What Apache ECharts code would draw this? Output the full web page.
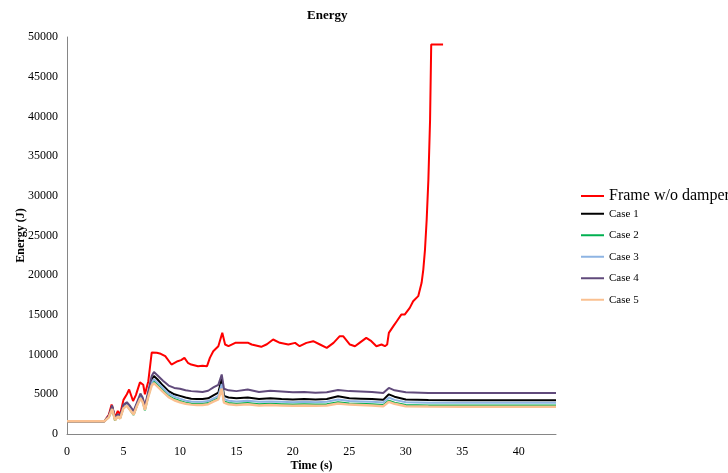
<!DOCTYPE html>
<html>
<head>
<meta charset="utf-8">
<script src="https://cdn.jsdelivr.net/npm/echarts@6/dist/echarts.min.js"></script>
<style>html,body{margin:0;padding:0;background:#fff}#c{width:728px;height:473px}</style>
</head>
<body>
<div id="c"></div>
<script>
const seriesNames = ["Frame w/o damper", "Case 1", "Case 2", "Case 3", "Case 4", "Case 5"];
const xTicks = [0, 5, 10, 15, 20, 25, 30, 35, 40];
const yTicks = [0, 5000, 10000, 15000, 20000, 25000, 30000, 35000, 40000, 45000, 50000];

const redT = [0, 3.3, 3.7, 3.95, 4.25, 4.5, 4.7, 5.0, 5.3, 5.5, 5.85, 6.1, 6.46, 6.75, 6.9, 7.2, 7.5, 7.65, 7.95, 8.3, 8.7, 9.25, 9.8, 10.1, 10.4, 10.7, 11.0, 11.6, 12.0, 12.4, 12.65, 12.95, 13.4, 13.75, 14.0, 14.3, 14.9, 15.6, 16.05, 16.35, 17.2, 17.7, 18.25, 18.85, 19.6, 20.2, 20.6, 21.2, 21.8, 22.4, 23.0, 23.6, 24.15, 24.45, 25.05, 25.5, 25.9, 26.5, 26.95, 27.4, 27.85, 28.15, 28.35, 28.5, 28.9, 29.2, 29.6, 29.9, 30.35, 30.65, 31.1, 31.4, 31.55, 31.7, 31.85, 32.0, 32.15, 32.25, 33.3];
const redE = [1600, 1600, 2400, 3700, 2100, 2900, 2450, 4300, 5000, 5600, 4150, 4900, 6500, 6200, 5000, 6650, 10260, 10430, 10230, 10100, 9800, 8750, 9170, 9300, 9590, 8970, 8750, 8540, 8600, 8540, 9590, 10430, 11060, 12740, 11270, 11060, 11480, 11480, 11480, 11270, 10980, 11300, 11900, 11480, 11270, 11480, 11060, 11480, 11690, 11270, 10850, 11480, 12320, 12320, 11270, 11060, 11480, 12110, 11690, 11060, 11270, 11060, 11270, 12740, 13580, 14200, 15040, 15040, 15890, 16720, 17360, 19040, 20710, 23230, 27010, 32040, 39600, 49040, 49040];

const caseT = [0, 3.3, 3.7, 4.0, 4.25, 4.5, 4.7, 5.0, 5.3, 5.6, 5.9, 6.2, 6.5, 6.7, 6.9, 7.2, 7.5, 7.7, 8.0, 8.5, 9.0, 9.5, 10.0, 10.5, 11.0, 11.5, 12.0, 12.5, 13.0, 13.4, 13.7, 13.9, 14.3, 15, 16, 17, 18, 19, 20, 21, 22, 23, 24, 25, 26, 27, 28, 28.5, 29, 30, 32, 35, 40, 43.3];
const case1 = [1600, 1600, 2200, 3400, 1900, 2400, 2100, 3500, 3800, 3300, 2700, 3800, 4800, 4300, 3300, 5100, 6900, 7300, 6900, 6100, 5400, 5000, 4800, 4600, 4450, 4400, 4400, 4500, 4900, 5200, 7000, 4800, 4600, 4500, 4600, 4400, 4500, 4400, 4350, 4400, 4350, 4400, 4750, 4500, 4450, 4400, 4300, 5000, 4700, 4350, 4270, 4260, 4260, 4260];
const case2 = [1600, 1600, 2100, 3200, 1700, 2250, 1950, 3300, 3600, 3000, 2400, 3600, 4600, 4100, 3000, 4800, 6300, 6600, 6200, 5500, 4800, 4400, 4150, 3950, 3850, 3800, 3800, 3900, 4250, 4500, 5900, 4100, 3900, 3800, 3900, 3750, 3800, 3750, 3700, 3750, 3700, 3750, 4000, 3850, 3800, 3750, 3650, 4200, 3950, 3650, 3600, 3590, 3590, 3590];
const case3 = [1600, 1600, 2150, 3300, 1850, 2350, 2050, 3400, 3700, 3200, 2600, 3700, 4700, 4200, 3200, 4900, 6500, 6900, 6500, 5800, 5100, 4700, 4450, 4200, 4100, 4050, 4050, 4150, 4500, 4800, 6300, 4400, 4200, 4100, 4200, 4050, 4100, 4050, 4000, 4050, 4000, 4050, 4350, 4150, 4100, 4050, 3980, 4600, 4300, 4000, 3940, 3930, 3930, 3930];
const case4 = [1600, 1600, 2300, 3600, 2000, 2500, 2200, 3700, 4000, 3500, 2900, 4000, 5100, 4600, 3500, 5400, 7300, 7800, 7400, 6700, 6100, 5800, 5700, 5500, 5400, 5350, 5300, 5450, 5900, 6200, 7500, 5700, 5500, 5400, 5600, 5300, 5450, 5350, 5250, 5300, 5200, 5250, 5550, 5400, 5350, 5300, 5150, 5800, 5500, 5250, 5150, 5150, 5150, 5150];
const case5 = [1600, 1600, 2100, 3150, 1750, 2200, 1950, 3250, 3550, 3000, 2450, 3550, 4500, 4000, 3050, 4700, 6100, 6400, 6000, 5300, 4650, 4250, 4000, 3800, 3700, 3650, 3650, 3750, 4100, 4350, 5700, 3950, 3750, 3650, 3750, 3600, 3650, 3600, 3550, 3600, 3550, 3600, 3850, 3700, 3650, 3600, 3500, 4050, 3800, 3500, 3450, 3430, 3420, 3420];

const colors = ["#ff0000", "#000000", "#00b050", "#8eb4e3", "#604a7b", "#fac090"];
const widths = [2, 2, 2, 2, 2, 2.5];
const caseVals = [case1, case2, case3, case4, case5];

function pairs(t, v) { return t.map((x, i) => [x, v[i]]); }

const serif = '"Liberation Serif", "Times New Roman", serif';
const series = [];
series.push({ name: seriesNames[0], data: pairs(redT, redE) });
caseVals.forEach((v, i) => series.push({ name: seriesNames[i + 1], data: pairs(caseT, v) }));
series.forEach((s, i) => {
  s.type = 'line';
  s.showSymbol = false;
  s.symbol = 'none';
  s.lineStyle = { color: colors[i], width: widths[i] };
  s.itemStyle = { color: colors[i] };
  s.z = 2 + i;
});

const chart = echarts.init(document.getElementById('c'), null, { renderer: 'canvas' });
chart.setOption({
  animation: false,
  backgroundColor: '#ffffff',
  title: {
    text: 'Energy', left: 302, top: 4,
    textStyle: { fontFamily: serif, fontSize: 13, fontWeight: 'bold', color: '#000' }
  },
  grid: { left: 67, right: 172, top: 37, bottom: 39, containLabel: false, outerBoundsMode: 'none' },
  legend: [
    {
      orient: 'vertical', left: 576, top: 183, icon: 'rect', itemWidth: 23, itemHeight: 2,
      data: [seriesNames[0]],
      textStyle: { fontFamily: serif, fontSize: 16, color: '#000' }
    },
    {
      orient: 'vertical', left: 576, top: 202, icon: 'rect', itemWidth: 23, itemHeight: 2, itemGap: 8,
      data: seriesNames.slice(1),
      textStyle: { fontFamily: serif, fontSize: 11, color: '#000', lineHeight: 13.5 }
    }
  ],
  xAxis: {
    type: 'value', min: 0, max: 43.3, interval: 5,
    name: 'Time (s)', nameLocation: 'middle', nameGap: 26, nameMoveOverlap: false,
    nameTextStyle: { fontFamily: serif, fontSize: 12, fontWeight: 'bold', color: '#000' },
    axisLine: { show: true, lineStyle: { color: '#868686', width: 1 } },
    axisTick: { show: false },
    splitLine: { show: false },
    axisLabel: {
      fontFamily: serif, fontSize: 12, color: '#000', margin: 12, showMaxLabel: false,
      formatter: v => (xTicks.indexOf(v) >= 0 ? String(v) : '')
    }
  },
  yAxis: {
    type: 'value', min: 0, max: 50000, interval: 5000,
    name: 'Energy (J)', nameLocation: 'middle', nameGap: 40, nameRotate: 90, nameMoveOverlap: false,
    nameTextStyle: { fontFamily: serif, fontSize: 12, fontWeight: 'bold', color: '#000' },
    axisLine: { show: true, lineStyle: { color: '#868686', width: 1 } },
    axisTick: { show: false },
    splitLine: { show: false },
    axisLabel: {
      fontFamily: serif, fontSize: 12, color: '#000', margin: 9,
      formatter: v => (yTicks.indexOf(v) >= 0 ? String(v) : '')
    }
  },
  series: series
});
</script>
</body>
</html>
